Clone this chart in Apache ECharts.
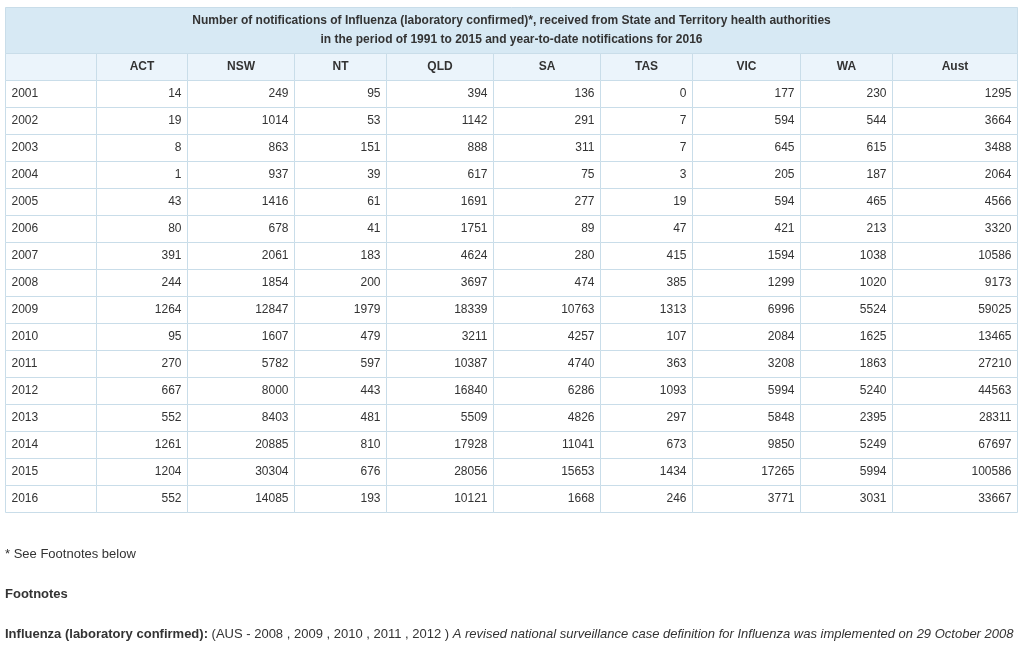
<!DOCTYPE html>
<html>
<head>
    <meta charset="UTF-8">
    <title>Influenza notifications</title>
    <script src="https://cdn.jsdelivr.net/npm/echarts@6.0.0/dist/echarts.min.js"></script>
    <style>
        body { margin: 0; padding: 0; background: #fff; }
        #table-chart { width: 1034px; height: 650px; }
    </style>
</head>
<body>
<div id="table-chart"></div>
<script>
// 数据
const years = ['2001','2002','2003','2004','2005','2006','2007','2008','2009','2010','2011','2012','2013','2014','2015','2016'];
const states = ['ACT','NSW','NT','QLD','SA','TAS','VIC','WA','Aust'];
const act  = [14,19,8,1,43,80,391,244,1264,95,270,667,552,1261,1204,552];
const nsw  = [249,1014,863,937,1416,678,2061,1854,12847,1607,5782,8000,8403,20885,30304,14085];
const nt   = [95,53,151,39,61,41,183,200,1979,479,597,443,481,810,676,193];
const qld  = [394,1142,888,617,1691,1751,4624,3697,18339,3211,10387,16840,5509,17928,28056,10121];
const sa   = [136,291,311,75,277,89,280,474,10763,4257,4740,6286,4826,11041,15653,1668];
const tas  = [0,7,7,3,19,47,415,385,1313,107,363,1093,297,673,1434,246];
const vic  = [177,594,645,205,594,421,1594,1299,6996,2084,3208,5994,5848,9850,17265,3771];
const wa   = [230,544,615,187,465,213,1038,1020,5524,1625,1863,5240,2395,5249,5994,3031];
const aust = [1295,3664,3488,2064,4566,3320,10586,9173,59025,13465,27210,44563,28311,67697,100586,33667];
const titleLines = [
    'Number of notifications of Influenza (laboratory confirmed)*, received from State and Territory health authorities',
    'in the period of 1991 to 2015 and year-to-date notifications for 2016'
];

// 版式（表格坐标单位）
const colEdges = [0, 91, 182, 289, 381, 488, 595, 687, 795, 887, 1012];
const titleH = 46, headH = 27, rowH = 27;
const tableH = titleH + headH + rowH * years.length;
const FONT = '"Liberation Sans", Arial, sans-serif';
const border = '#c9dde9';

const columns = [act, nsw, nt, qld, sa, tas, vic, wa, aust];

// 单元格数据 [列, 行, 文本]  行 -1 = 表头
const cells = [];
states.forEach((s, j) => cells.push([j + 1, -1, s]));
cells.push([0, -1, '']);
years.forEach((y, i) => {
    cells.push([0, i, y]);
    columns.forEach((col, j) => cells.push([j + 1, i, String(col[i])]));
});

function rowTop(r) {
    return r < 0 ? titleH : titleH + headH + rowH * r;
}

function renderCell(params, api) {
    const c = api.value(0), r = api.value(1);
    const text = cells[params.dataIndex][2];
    const h = r < 0 ? headH : rowH;
    const p0 = api.coord([colEdges[c], rowTop(r)]);
    const p1 = api.coord([colEdges[c + 1], rowTop(r) + h]);
    const x0 = Math.round(p0[0]) + 0.5, y0 = Math.round(p0[1]) + 0.5;
    const x1 = Math.round(p1[0]) + 0.5, y1 = Math.round(p1[1]) + 0.5;
    let tx, align, weight = 'normal';
    if (r < 0) { tx = (x0 + x1) / 2; align = 'center'; weight = 'bold'; }
    else if (c === 0) { tx = x0 + 6; align = 'left'; }
    else { tx = x1 - 6; align = 'right'; }
    return {
        type: 'group',
        children: [{
            type: 'rect',
            shape: { x: x0, y: y0, width: x1 - x0, height: y1 - y0 },
            style: { fill: r < 0 ? '#ebf4fb' : '#ffffff', stroke: border, lineWidth: 1 }
        }, {
            type: 'text',
            style: {
                text: text, x: tx, y: (y0 + y1) / 2,
                align: align, verticalAlign: 'middle',
                font: weight + ' 12px ' + FONT, fill: '#333'
            }
        }]
    };
}

function renderTitle(params, api) {
    const p0 = api.coord([colEdges[0], 0]);
    const p1 = api.coord([colEdges[colEdges.length - 1], titleH]);
    const x0 = Math.round(p0[0]) + 0.5, y0 = Math.round(p0[1]) + 0.5;
    const x1 = Math.round(p1[0]) + 0.5, y1 = Math.round(p1[1]) + 0.5;
    const cx = (x0 + x1) / 2;
    return {
        type: 'group',
        children: [{
            type: 'rect',
            shape: { x: x0, y: y0, width: x1 - x0, height: y1 - y0 },
            style: { fill: '#d7e9f4', stroke: border, lineWidth: 1 }
        }].concat(titleLines.map((t, k) => ({
            type: 'text',
            style: {
                text: t, x: cx, y: y0 + 13.5 + k * 19,
                align: 'center', verticalAlign: 'middle',
                font: 'bold 12px ' + FONT, fill: '#333'
            }
        })))
    };
}

const noteStyle = { fontFamily: FONT, fontSize: 13, fontWeight: 'normal', color: '#333' };

const chart = echarts.init(document.getElementById('table-chart'));
chart.setOption({
    animation: false,
    title: [{
        text: '* See Footnotes below', left: 5, top: 548, padding: 0,
        textStyle: noteStyle
    }, {
        text: 'Footnotes', left: 5, top: 588, padding: 0,
        textStyle: Object.assign({}, noteStyle, { fontWeight: 'bold' })
    }, {
        text: '{b|Influenza (laboratory confirmed):} {n|(AUS - 2008 , 2009 , 2010 , 2011 , 2012 )} {i|A revised national surveillance case definition for Influenza was implemented on 29 October 2008}',
        left: 5, top: 628, padding: 0,
        textStyle: Object.assign({}, noteStyle, {
            rich: {
                b: Object.assign({}, noteStyle, { fontWeight: 'bold' }),
                n: Object.assign({}, noteStyle),
                i: Object.assign({}, noteStyle, { fontStyle: 'italic' })
            }
        })
    }],
    grid: { left: 5, top: 7, width: 1012, height: tableH },
    xAxis: { type: 'value', min: 0, max: 1012, show: false },
    yAxis: { type: 'value', min: 0, max: tableH, inverse: true, show: false },
    series: [{
        type: 'custom',
        renderItem: renderTitle,
        data: [[0, 0]],
        silent: true
    }, {
        type: 'custom',
        renderItem: renderCell,
        data: cells.map(d => [d[0], d[1]]),
        silent: true
    }]
});
</script>
</body>
</html>
